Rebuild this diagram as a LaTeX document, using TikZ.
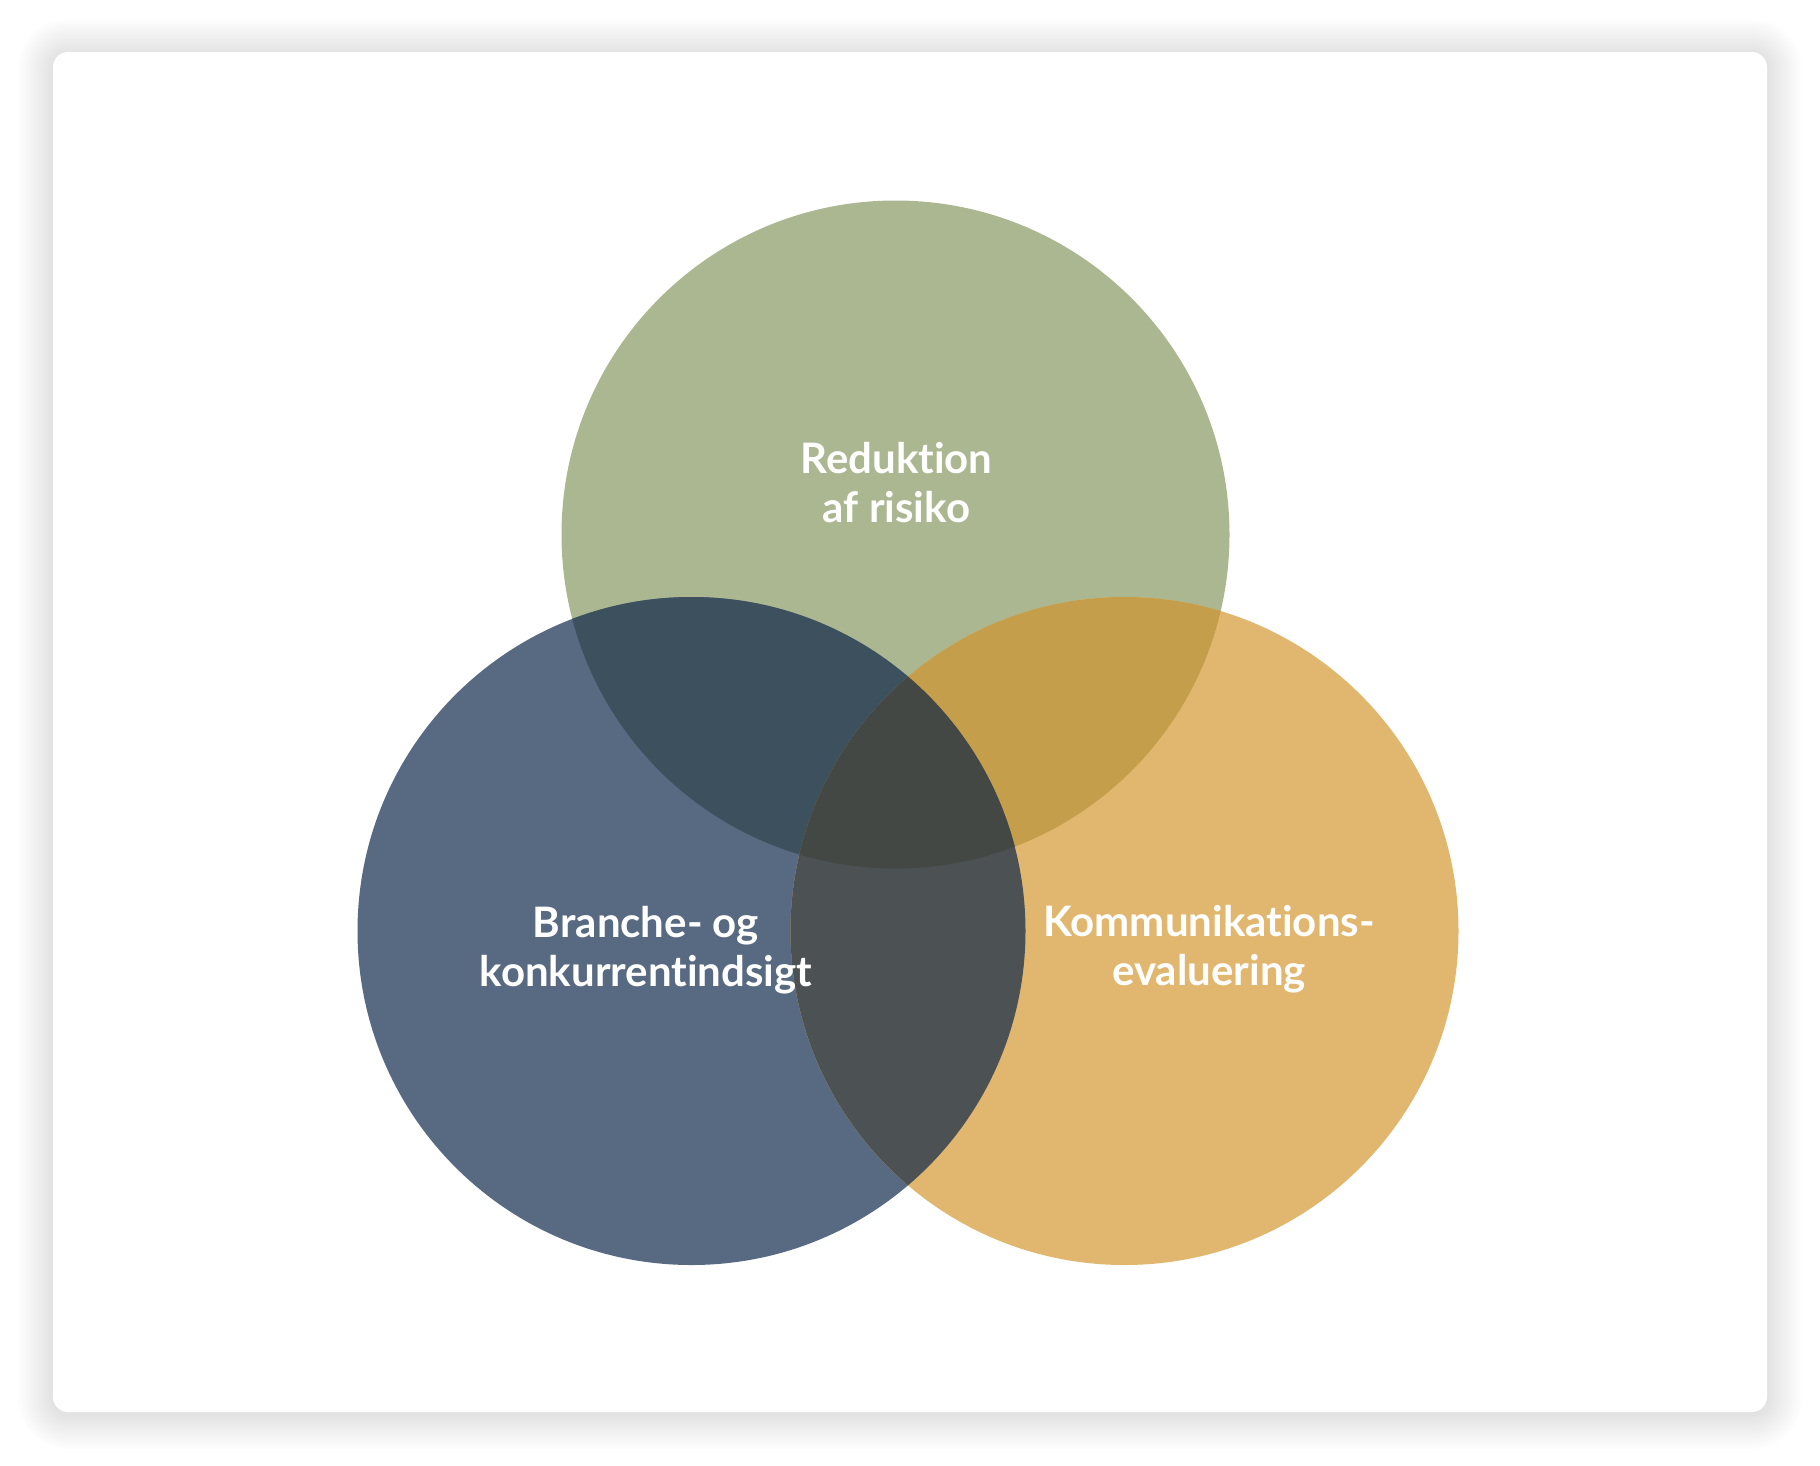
\documentclass[tikz,border=0pt]{standalone}
\usepackage{fontspec}
\setmainfont{Lato}[Ligatures=NoCommon]
\usepackage{tikz}

\definecolor{greenc}{RGB}{171,183,144}
\definecolor{bluec}{RGB}{88,106,130}
\definecolor{goldc}{RGB}{225,183,111}
\definecolor{greenblue}{RGB}{60,80,94}
\definecolor{greengold}{RGB}{196,158,74}
\definecolor{bluegold}{RGB}{76,81,84}
\definecolor{allthree}{RGB}{68,72,69}

\tikzset{
  label text/.style={text=white, align=center, inner sep=0pt, anchor=base,
    font=\fontsize{42}{49}\selectfont\bfseries},
}

\begin{document}
\begin{tikzpicture}[x=1pt,y=1pt,yscale=-1,xscale=1]
\useasboundingbox (0,0) rectangle (1820,1465);
\fill[white] (0,0) rectangle (1820,1465);

%Shadow of the card
\foreach \k in {1,...,14}{
  \pgfmathsetmacro\rr{15+2.5*\k}
  \fill[black, opacity=0.006, rounded corners=\rr pt] ({53-2.5*\k},{54-2.5*\k}) rectangle ({1767+2.5*\k},{1414+2.5*\k});
}
%Card
\fill[white, rounded corners=15pt] (53,52) rectangle (1767,1412);

%Circle centres
\coordinate (ctop) at (895.5,534.5);
\coordinate (cleft) at (691.5,931);
\coordinate (cright) at (1124.5,931);
\def\rad{334pt}

%Circles
\fill[greenc] (ctop) circle [radius=\rad];
\fill[bluec] (cleft) circle [radius=\rad];
\fill[goldc] (cright) circle [radius=\rad];

%Overlaps
\begin{scope}
  \clip (ctop) circle [radius=\rad];
  \fill[greenblue] (cleft) circle [radius=\rad];
\end{scope}
\begin{scope}
  \clip (ctop) circle [radius=\rad];
  \fill[greengold] (cright) circle [radius=\rad];
\end{scope}
\begin{scope}
  \clip (cleft) circle [radius=\rad];
  \fill[bluegold] (cright) circle [radius=\rad];
\end{scope}
\begin{scope}
  \clip (ctop) circle [radius=\rad];
  \clip (cleft) circle [radius=\rad];
  \fill[allthree] (cright) circle [radius=\rad];
\end{scope}

% Text Nodes (base = last line)
\node[label text] (risiko) at (896.5,522) {Reduktion\\af risiko};
\node[label text] (branche) at (646,986) {Branche- og\\konkurrentindsigt};
\node[label text] (kommunikation) at (1209,985) {Kommunikations-\\evaluering};

\end{tikzpicture}
\end{document}
